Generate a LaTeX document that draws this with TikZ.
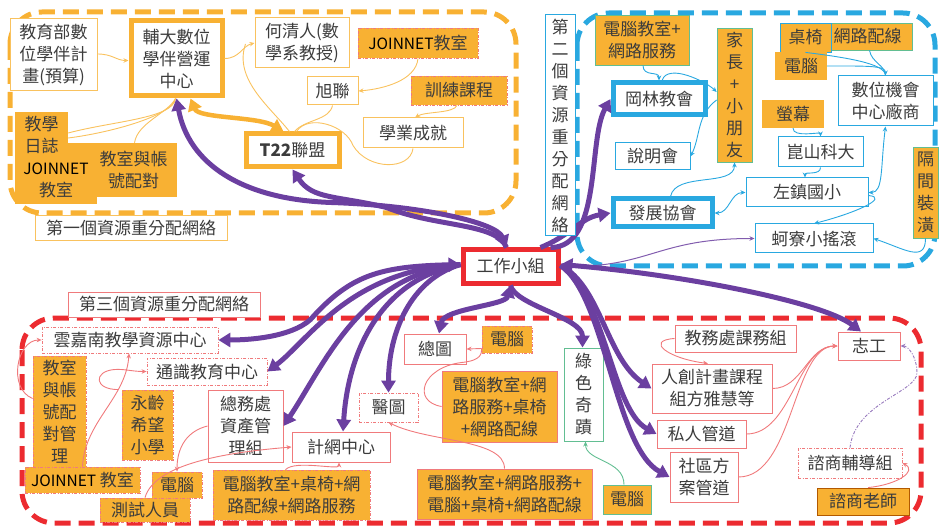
\documentclass[tikz,border=0pt]{standalone}
\usepackage{fontspec}
\setmainfont{Noto Sans CJK TC}
\usetikzlibrary{arrows.meta,calc}
\definecolor{org}{HTML}{F8B133}
\definecolor{orgL}{HTML}{F9C25E}
\definecolor{blu}{HTML}{29A8E0}
\definecolor{rd}{HTML}{EC2B30}
\definecolor{rdL}{HTML}{F07A7C}
\definecolor{pur}{HTML}{6B3FA0}
\definecolor{grn}{HTML}{62BE92}
\definecolor{txt}{HTML}{3C3C3C}
\newcommand\pbox[7]{\node[#2, minimum width={#5-#3}, minimum height={#6-#4}] (#1) at ({(#3+#5)/2},{(#4+#6)/2}) {#7};}
\newcommand\jnet{{\fontsize{15.5}{22}\selectfont\textcolor{black}{JOINNET}}}
\tikzset{
  box/.style={inner sep=0pt, align=center, text=txt, font=\fontsize{17}{22}\selectfont, fill=white},
  ob/.style={box, fill=org},
  obR/.style={ob, draw=rdL, line width=0.8pt, dash pattern=on 3pt off 1.5pt on 1pt off 1.5pt},
  obRs/.style={ob, draw=rdL, line width=0.8pt},
  obG/.style={ob, draw=grn, line width=0.8pt},
  obB/.style={ob, draw=blu, line width=0.8pt},
  thinO/.style={box, draw=orgL, line width=1pt},
  thickO/.style={box, draw=org, line width=5pt},
  thinB/.style={box, draw=blu, line width=1pt},
  thickB/.style={box, draw=blu, line width=5pt},
  thinR/.style={box, draw=rdL, line width=1pt},
  ddR/.style={box, draw=rdL, line width=0.8pt, dash pattern=on 3pt off 1.5pt on 1pt off 1.5pt},
  thinG/.style={box, draw=grn, line width=1pt},
  thickR/.style={box, draw=rd, line width=5pt},
  region/.style={line width=5pt, dash pattern=on 16pt off 8pt, rounded corners=32pt},
  tip/.tip={Triangle[length=12pt,width=14pt]},
  pa/.style={draw=pur, line width=5pt, -tip},
  pab/.style={draw=pur, line width=5pt, tip-tip},
  st/.tip={Stealth[length=5pt,width=4.5pt]},
  tO/.style={draw=orgL, line width=0.9pt},
  tB/.style={draw=blu, line width=0.9pt},
  tR/.style={draw=rdL, line width=0.9pt},
  tG/.style={draw=grn, line width=0.9pt},
}
\begin{document}
\begin{tikzpicture}[x=1pt,y=-1pt]
\useasboundingbox (0,0) rectangle (939,529);
% regions
\draw[region, org] (10,12) rectangle (516,213);
\draw[region, blu] (577,13) rectangle (935,266);
\draw[region, rd] (22,318) rectangle (921,523);
% region labels
\pbox{L1}{thinO}{35}{216}{227}{241}{第一個資源重分配網絡}
\pbox{L3}{thinR}{68}{292}{260}{317}{第三個資源重分配網絡}
% ---------- top (orange) network ----------
\pbox{edu}{thinO}{10}{19}{97}{91}{教育部數\\位學伴計\\畫(預算)}
\pbox{fuda}{thickO}{131}{21}{222}{96}{輔大數位\\學伴營運\\中心}
\pbox{he}{thinO}{255}{18}{349}{68}{何清人(數\\學系教授)}
\pbox{jn1}{obR}{358}{28}{478}{58}{\jnet 教室}
\pbox{xu}{thinO}{307}{77}{358}{105}{旭聯}
\pbox{train}{obR}{411}{76}{507}{105}{訓練課程}
\pbox{ach}{thinO}{363}{118}{463}{148}{學業成就}
\pbox{t22}{thickO}{246}{134}{339}{167}{\textbf{T22}聯盟}
\fill[org] (15,143) rectangle (97,162);
\pbox{diary}{ob}{15}{112}{68}{158}{教學\\日誌}
\pbox{jnt}{ob}{15}{156}{97}{204}{\jnet\\教室}
\pbox{cls1}{ob}{90}{143}{177}{197}{教室與帳\\號配對}
% ---------- blue network ----------
\pbox{pcnet}{obG}{595}{15}{689}{65}{電腦教室+\\網路服務}
\pbox{parent}{obG}{717}{28}{752}{162}{家\\長\\+\\小\\朋\\友}
\pbox{wire}{obG}{823}{23}{912}{50}{網路配線}
\pbox{desk}{obB}{780}{23}{831}{52}{桌椅}
\pbox{pc2}{ob}{775}{52}{827}{80}{電腦}
\pbox{dig}{thinB}{838}{76}{933}{126}{數位機會\\中心廠商}
\pbox{gang}{thickB}{613}{83}{705}{115}{岡林教會}
\pbox{expl}{thinB}{615}{143}{690}{170}{說明會}
\pbox{scr}{ob}{762}{100}{824}{128}{螢幕}
\pbox{ksu}{thinB}{778}{137}{863}{167}{崑山科大}
\pbox{zz}{thinB}{746}{178}{868}{207}{左鎮國小}
\pbox{dev}{thickB}{613}{199}{712}{227}{發展協會}
\pbox{ky}{thinB}{755}{224}{873}{253}{蚵寮小搖滾}
\pbox{part}{obG}{913}{147}{938}{238}{隔\\間\\裝\\潢}
% ---------- centre ----------
\pbox{work}{thickR}{463}{250}{558}{283}{工作小組}
% ---------- red network ----------
\pbox{yun}{ddR}{42}{327}{218}{353}{雲嘉南教學資源中心}
\pbox{gen}{ddR}{147}{358}{267}{385}{通識教育中心}
\pbox{cls2}{obR}{33}{356}{86}{467}{教室\\與帳\\號配\\對管\\理}
\pbox{yong}{obR}{122}{390}{173}{460}{永齡\\希望\\小學}
\pbox{gen2}{thinR}{208}{390}{283}{462}{總務處\\資產管\\理組}
\pbox{jn3}{obR}{25}{467}{140}{493}{\jnet\ 教室}
\pbox{pc3}{obR}{152}{472}{202}{498}{電腦}
\pbox{tester}{obR}{100}{498}{190}{522}{測試人員}
\pbox{pcset1}{obR}{213}{470}{370}{520}{電腦教室+桌椅+網\\路配線+網路服務}
\pbox{cc}{thinR}{292}{432}{390}{462}{計網中心}
\pbox{med}{ddR}{359}{393}{418}{422}{醫圖}
\pbox{lib}{thinR}{404}{334}{466}{364}{總圖}
\pbox{pc4}{obR}{482}{326}{532}{353}{電腦}
\pbox{pcset2}{obRs}{442}{371}{557}{442}{電腦教室+網\\路服務+桌椅\\+網路配線}
\pbox{pcset3}{obRs}{417}{469}{592}{519}{電腦教室+網路服務+\\電腦+桌椅+網路配線}
\pbox{green}{thinG}{564}{348}{603}{441}{綠\\色\\奇\\蹟}
\pbox{pc5}{obG}{603}{485}{651}{514}{電腦}
\pbox{aff}{thinR}{675}{325}{796}{352}{教務處課務組}
\pbox{hc}{thinR}{652}{364}{772}{413}{人創計畫課程\\組方雅慧等}
\pbox{priv}{thinR}{657}{420}{746}{448}{私人管道}
\pbox{comm}{thinR}{670}{452}{738}{502}{社區方\\案管道}
\pbox{vol}{thinR}{838}{332}{900}{360}{志工}
\pbox{coun}{ddR}{798}{448}{902}{478}{諮商輔導組}
\pbox{ct}{ob, draw=orange!70!black, line width=0.8pt}{817}{488}{909}{515}{諮商老師}
% ---------- thin orange connectors ----------
\draw[tO,-st] ([yshift=1pt]edu.east) .. controls +(15,0) and +(-12,0) .. ([yshift=-2pt]fuda.west);
\draw[tO] ([yshift=-3pt]diary.east) .. controls +(40,-5) and +(-4,18) .. ([xshift=-1pt]fuda.south);
\draw[tO] ([yshift=2pt]diary.east) .. controls +(45,-12) and +(-2,20) .. ([xshift=-1pt]fuda.south);
\draw[tO] ([xshift=1pt]cls1.north) .. controls +(3,-20) and +(-8,15) .. ([xshift=-1pt]fuda.south);
\draw[tO,-st] (fuda.east) .. controls +(15,0) and +(-12,3) .. (he.west);
\draw[tO] ([xshift=-9pt,yshift=-1pt]he.west) .. controls +(-12,35) and +(-20,-25) .. ([xshift=-3pt]t22.north);
\draw[tO,-st] (jn1.south) .. controls +(-2,22) and +(25,-2) .. (xu.east);
\draw[tO] (xu.south) .. controls +(-3,15) and +(10,-12) .. ([xshift=2pt]t22.north);
\draw[tO] (ach.south) .. controls +(-3,22) and +(15,25) .. ++(-60,-3) .. controls +(-7,-20) and +(12,-18) .. ([xshift=4pt]t22.north);
\draw[tO,-st] ([xshift=-2pt]train.south) .. controls +(-3,8) and +(10,-6) .. ([xshift=2pt]ach.north);
\draw[draw=org, line width=4.5pt, tip-tip] ([xshift=14pt]fuda.south) .. controls +(8,20) and +(-25,-15) .. ([xshift=-9pt]t22.north);
% ---------- thin blue connectors ----------
\draw[tB,-st] ([xshift=1pt]pcnet.south) .. controls +(0,12) and +(0,-10) .. (gang.north);
\draw[tB,-st] ([xshift=3pt]gang.north) .. controls +(6,-18) and +(-10,-10) .. ([yshift=3pt]parent.west);
\draw[tB,-st] ([yshift=-5pt]parent.west) .. controls +(-20,15) and +(10,-20) .. (expl.east);
\draw[tB,-st] ([xshift=8pt]dev.north) .. controls +(5,-25) and +(0,25) .. (parent.south);
\draw[tB,st-st] (dev.east) .. controls +(15,0) and +(-15,0) .. (zz.west);
\draw[tB,-st] (scr.south) .. controls +(0,10) and +(0,-5) .. (ksu.north);
\draw[tB,-st] (ksu.south) .. controls +(0,8) and +(0,-6) .. ([xshift=-2pt]zz.north);
\draw[tB,st-st] (dig.south) .. controls +(-5,40) and +(15,0) .. (zz.east);
\draw[tB,-st] ([yshift=-3pt]zz.east) .. controls +(22,2) and +(40,-10) .. (ky.north);
\draw[tB,-st] (part.south) .. controls +(0,25) and +(30,10) .. (ky.east);
\draw[tB,-st] (pc2.east) .. controls +(40,0) and +(0,-10) .. (dig.north);
\draw[tB] (desk.south) .. controls +(40,5) and +(0,-12) .. (dig.north);
\draw[tB] ([xshift=2pt]wire.south) .. controls +(2,12) and +(0,-10) .. (dig.north);
% ---------- thin red connectors ----------
\draw[tR,-st] ([yshift=13pt]cls2.west) .. controls +(-25,-10) and +(-25,0) .. (yun.west);
\draw[tR,-st] (jn3.north) .. controls +(2,-45) and +(-3,45) .. ([xshift=-1pt]yun.south);
\draw[tR,-st] ([xshift=-3pt]yong.north west) .. controls +(-25,0) and +(-20,2) .. ++(-5,-20) .. controls +(10,-1) and +(-15,0) .. (gen.west);
\draw[tR,-st] (gen2.west) .. controls +(-20,5) and +(0,-25) .. (pc3.north);
\draw[tR,-st] (tester.north) .. controls +(10,-35) and +(-60,5) .. (cc.west);
\draw[tR,-st] ([xshift=-6pt]pcset1.north) .. controls +(10,-10) and +(0,8) .. ([xshift=-2pt]cc.south);
\draw[tR,-st] (pcset3.north) .. controls +(0,-30) and +(40,20) .. (med.south);
\draw[tR,-st] ([yshift=-9pt]pc4.west) -- (lib.east);
\draw[tR] (pcset2.west) .. controls +(-30,-5) and +(-40,5) .. ++(20,-44) .. controls +(20,-2) and +(0,5) .. ([yshift=-9pt]pc4.west);
\draw[tG,-st] ([xshift=-3pt]pc5.north) .. controls +(0,-25) and +(0,20) .. ([xshift=2pt]green.south);
\draw[tR,-st] (aff.west) .. controls +(-30,2) and +(-40,-5) .. ([xshift=-4pt]hc.north);
\draw[tR,-st] (hc.east) .. controls +(30,0) and +(-30,0) .. (vol.west);
\draw[tR,-st] (priv.east) .. controls +(45,0) and +(-40,0) .. (vol.west);
\draw[tR,-st] (comm.east) .. controls +(55,0) and +(-45,0) .. (vol.west);
\draw[draw=pur!70, line width=0.9pt, dash pattern=on 3pt off 1.5pt on 1pt off 1.5pt, -st] (coun.north) .. controls +(5,-45) and +(0,20) .. ++(67,-75) .. controls +(0,-15) and +(8,0) .. (vol.east);
\draw[tR,-st] ([xshift=5pt]ct.north) .. controls +(30,-3) and +(15,8) .. (coun.east);
% ---------- purple arrows ----------
\draw[pab] (fuda.south) .. controls +(12,65) and +(-90,-3) .. ++(155,104) .. controls +(90,3) and +(-10,-25) .. ([xshift=-4pt]work.north);
\draw[pa] ([xshift=-4pt]work.north) .. controls +(-10,-25) and +(50,20) .. ++(-120,-40) .. controls +(-50,-12) and +(20,30) .. (t22.south);
\draw[pa] ([xshift=-10pt]work.north east) .. controls +(52,0) and +(-23,41) .. (gang.west);
\draw[pa] ([xshift=-20pt]work.north east) .. controls +(30,-12) and +(-30,5) .. (dev.west);
\draw[draw=pur!85, line width=1pt, -st] (work.east) .. controls +(90,2) and +(-100,0) .. (ky.west);
\draw[pab] ([yshift=2pt]work.east) .. controls +(120,10) and +(-40,-30) .. ([xshift=-8pt]vol.north);
\draw[pa] ([yshift=1pt]work.east) .. controls +(40,20) and +(-45,-30) .. (hc.west);
\draw[pa] ([yshift=1pt]work.east) .. controls +(45,30) and +(-45,-25) .. (priv.west);
\draw[pa] ([yshift=1pt]work.east) .. controls +(45,30) and +(-55,-30) .. (comm.west);
\draw[pab] (work.south) .. controls +(-5,20) and +(5,-25) .. ([xshift=4pt]lib.north);
\draw[pa] (work.south) .. controls +(5,20) and +(0,-30) .. ([xshift=-1pt]green.north);
\draw[pab] ([yshift=2pt]work.west) .. controls +(-80,2) and +(40,-45) .. ++(-150,55) .. controls +(-20,18) and +(30,0) .. (yun.east);
\draw[pa] ([yshift=2pt]work.west) .. controls +(-110,5) and +(40,-30) .. (gen.east);
\draw[pa] ([yshift=2pt]work.west) .. controls +(-100,10) and +(40,-60) .. (gen2.east);
\draw[pa] ([yshift=2pt]work.west) .. controls +(-80,15) and +(5,-80) .. ([xshift=2pt]cc.north);
\draw[pa] ([yshift=2pt]work.west) .. controls +(-50,15) and +(0,-60) .. (med.north);
% second network label (drawn last, over the lines)
\pbox{L2}{thinB}{545}{15}{575}{236}{第\\二\\個\\資\\源\\重\\分\\配\\網\\絡}
\end{tikzpicture}
\end{document}
